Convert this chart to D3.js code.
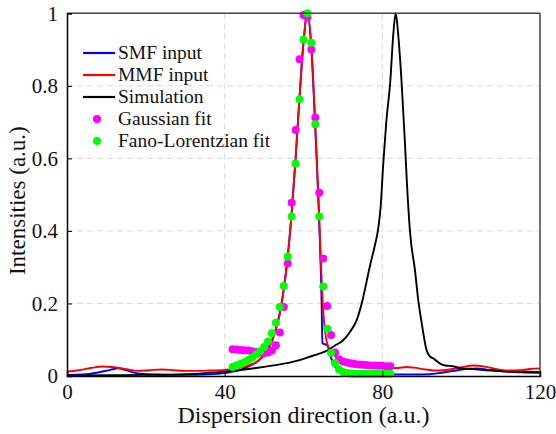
<!DOCTYPE html>
<html><head><meta charset="utf-8">
<script src="https://cdn.jsdelivr.net/npm/d3@7"></script>
<style>body{margin:0;background:#fff}svg{display:block}</style>
</head><body><svg id="c" width="556" height="434"></svg>
<script>
// ---- data ----
const xTicks = [0, 40, 80, 120];
const yTicks = [0, 0.2, 0.4, 0.6, 0.8, 1];
const yTickLabels = ["0", "0.2", "0.4", "0.6", "0.8", "1"];
const legendLabels = ["SMF input", "MMF input", "Simulation", "Gaussian fit", "Fano-Lorentzian fit"];

const smfX = [0,4,8,11,13,15,18,22,26,30,34,38,40,42,44,46,47,48,49,50,51,52,53,54,55,56,57,58,59,60,61,62,63,64,64.6,64.8,66,67,68,69,70,74,80,88,92,95,98,101,104,107,110,114,117,120];
const smfY = [0.003,0.004,0.010,0.017,0.021,0.016,0.007,0.004,0.003,0.003,0.004,0.006,0.008,0.012,0.017,0.026,0.031,0.038,0.047,0.058,0.075,0.098,0.13,0.175,0.24,0.33,0.45,0.60,0.77,0.92,1.0,0.90,0.68,0.42,0.2,0.09,0.085,0.05,0.026,0.012,0.007,0.005,0.004,0.004,0.005,0.009,0.014,0.019,0.021,0.017,0.014,0.013,0.012,0.011];

const mmfX = [0,3,6,9,12,15,18,21,24,27,30,33,36,40,42,44,46,48,49,50,51,52,53,54,55,56,57,58,59,60,61,62,63,64,65,66,67,68,69,70,72,75,78,81,84,86,88,91,94,97,100,103,106,109,112,115,118,120];
const mmfY = [0.012,0.016,0.022,0.026,0.024,0.019,0.014,0.016,0.018,0.016,0.014,0.014,0.015,0.017,0.019,0.023,0.029,0.038,0.046,0.056,0.072,0.095,0.128,0.172,0.238,0.33,0.45,0.60,0.77,0.92,1.0,0.91,0.69,0.43,0.18,0.09,0.068,0.055,0.046,0.040,0.033,0.027,0.023,0.021,0.022,0.025,0.023,0.018,0.015,0.018,0.024,0.029,0.026,0.019,0.015,0.016,0.020,0.021];

const simX = [0,10,20,30,35,40,45,50,55,59,63,66,68,70,72,73.5,75,76,77,78,79,79.6,80.2,81,82,82.8,83.4,84,84.9,85.7,86.2,87,88.3,89.1,90,91.2,92,93,95,96,98,100,102,105,108,111,115,120];
const simY = [0.001,0.002,0.003,0.005,0.008,0.012,0.018,0.025,0.034,0.044,0.058,0.070,0.084,0.098,0.125,0.154,0.21,0.26,0.31,0.355,0.41,0.47,0.58,0.70,0.81,0.945,1.0,0.945,0.807,0.65,0.54,0.40,0.29,0.21,0.145,0.072,0.055,0.048,0.032,0.029,0.027,0.021,0.020,0.017,0.015,0.012,0.010,0.009];

const fitX = [42,43,44,45,46,47,48,49,50,51,52,53,54,55,56,57,58,59,60,61,62,63,64,65,66,67,68,69,70,71,72,73,74,75,76,77,78,79,80,81,82];
const gaussY = [0.074,0.073,0.072,0.071,0.070,0.068,0.066,0.064,0.063,0.065,0.070,0.085,0.12,0.19,0.31,0.478,0.678,0.873,0.995,0.99,0.90,0.713,0.505,0.324,0.193,0.113,0.065,0.046,0.040,0.037,0.035,0.033,0.032,0.031,0.030,0.029,0.029,0.028,0.028,0.027,0.027];
const fanoY = [0.025,0.029,0.033,0.038,0.044,0.051,0.059,0.068,0.080,0.095,0.118,0.147,0.19,0.248,0.329,0.44,0.586,0.763,0.928,1.0,0.919,0.694,0.44,0.247,0.13,0.064,0.035,0.018,0.011,0.008,0.007,0.006,0.006,0.006,0.006,0.006,0.006,0.006,0.006,0.006,0.006];

// ---- chart ----
const FONT = "Liberation Serif";
const svg = d3.select("#c");
const L = 67, R = 540, T = 13.3, B = 376;
const x = d3.scaleLinear().domain([0, 120]).range([L, R]);
const y = d3.scaleLinear().domain([0, 1]).range([B, T]);

// grid
const grid = svg.append("g").attr("stroke", "#d9d9d9").attr("stroke-width", 1).attr("stroke-dasharray", "6,4");
grid.selectAll(".gx").data(xTicks.slice(1, -1)).join("line")
  .attr("x1", d => x(d)).attr("x2", d => x(d)).attr("y1", T).attr("y2", B);
grid.selectAll(".gy").data(yTicks.slice(1, -1)).join("line")
  .attr("x1", L).attr("x2", R).attr("y1", d => y(d)).attr("y2", d => y(d));

// lines
const line = d3.line().x(d => x(d[0])).y(d => y(d[1])).curve(d3.curveMonotoneX);
const zip = (a, b) => a.map((v, i) => [v, b[i]]);
const series = [
  {xs: smfX, ys: smfY, c: "#0000ff"},
  {xs: mmfX, ys: mmfY, c: "#ff0000"},
  {xs: simX, ys: simY, c: "#000000"}
];
series.forEach(s => {
  svg.append("path").datum(zip(s.xs, s.ys)).attr("d", line)
    .attr("fill", "none").attr("stroke", s.c).attr("stroke-width", 1.9).attr("stroke-linejoin", "round");
});
// points
svg.append("g").selectAll("circle").data(zip(fitX, gaussY)).join("circle")
  .attr("cx", d => x(d[0])).attr("cy", d => y(d[1])).attr("r", 4).attr("fill", "#ff00ff");
svg.append("g").selectAll("circle").data(zip(fitX, fanoY)).join("circle")
  .attr("cx", d => x(d[0])).attr("cy", d => y(d[1])).attr("r", 4).attr("fill", "#00ff00");

// frame
svg.append("line").attr("x1", L).attr("x2", R).attr("y1", T).attr("y2", T).attr("stroke", "#444").attr("stroke-width", 1.5);
svg.append("line").attr("x1", R).attr("x2", R).attr("y1", T).attr("y2", B).attr("stroke", "#444").attr("stroke-width", 1.5);

// axes
const xAxis = d3.axisBottom(x).tickValues(xTicks).tickSize(-5).tickPadding(8).tickFormat(d3.format("d"));
const gx = svg.append("g").attr("transform", `translate(0,${B})`).call(xAxis);
const yAxis = d3.axisLeft(y).tickValues(yTicks).tickSize(-5).tickPadding(9).tickFormat((d, i) => yTickLabels[i]);
const gy = svg.append("g").attr("transform", `translate(${L},0)`).call(yAxis);
[gx, gy].forEach(g => {
  g.attr("font-family", FONT).attr("font-size", 21);
  g.select(".domain").attr("stroke", "#000").attr("stroke-width", 1.5);
  g.selectAll(".tick line").attr("stroke", "#000");
  g.selectAll("text").attr("fill", "#111").attr("font-family", FONT).style("font-family", FONT);
});

// titles
svg.append("text").attr("x", (L + R) / 2).attr("y", 423).attr("text-anchor", "middle")
  .attr("font-family", FONT).style("font-family", FONT).attr("font-size", 24).attr("fill", "#111").text("Dispersion direction (a.u.)");
svg.append("text").attr("transform", `translate(25,${(T + B) / 2 + 6}) rotate(-90)`).attr("text-anchor", "middle")
  .attr("font-family", FONT).style("font-family", FONT).attr("font-size", 23).attr("fill", "#111").text("Intensities (a.u.)");

// legend
const lg = svg.append("g").attr("transform", "translate(83,53)");
const colors = ["#0000ff", "#ff0000", "#000000", "#ff00ff", "#00ff00"];
legendLabels.forEach((lab, i) => {
  const g = lg.append("g").attr("transform", `translate(0,${i * 22})`);
  if (i < 3) g.append("line").attr("x1", 0).attr("x2", 32).attr("stroke", colors[i]).attr("stroke-width", 2.2);
  else g.append("circle").attr("cx", 14).attr("r", 4).attr("fill", colors[i]);
  g.append("text").attr("x", 35).attr("dy", "0.33em").attr("font-family", FONT).style("font-family", FONT)
    .attr("font-size", 19.5).attr("fill", "#111").text(lab);
});
</script></body></html>
